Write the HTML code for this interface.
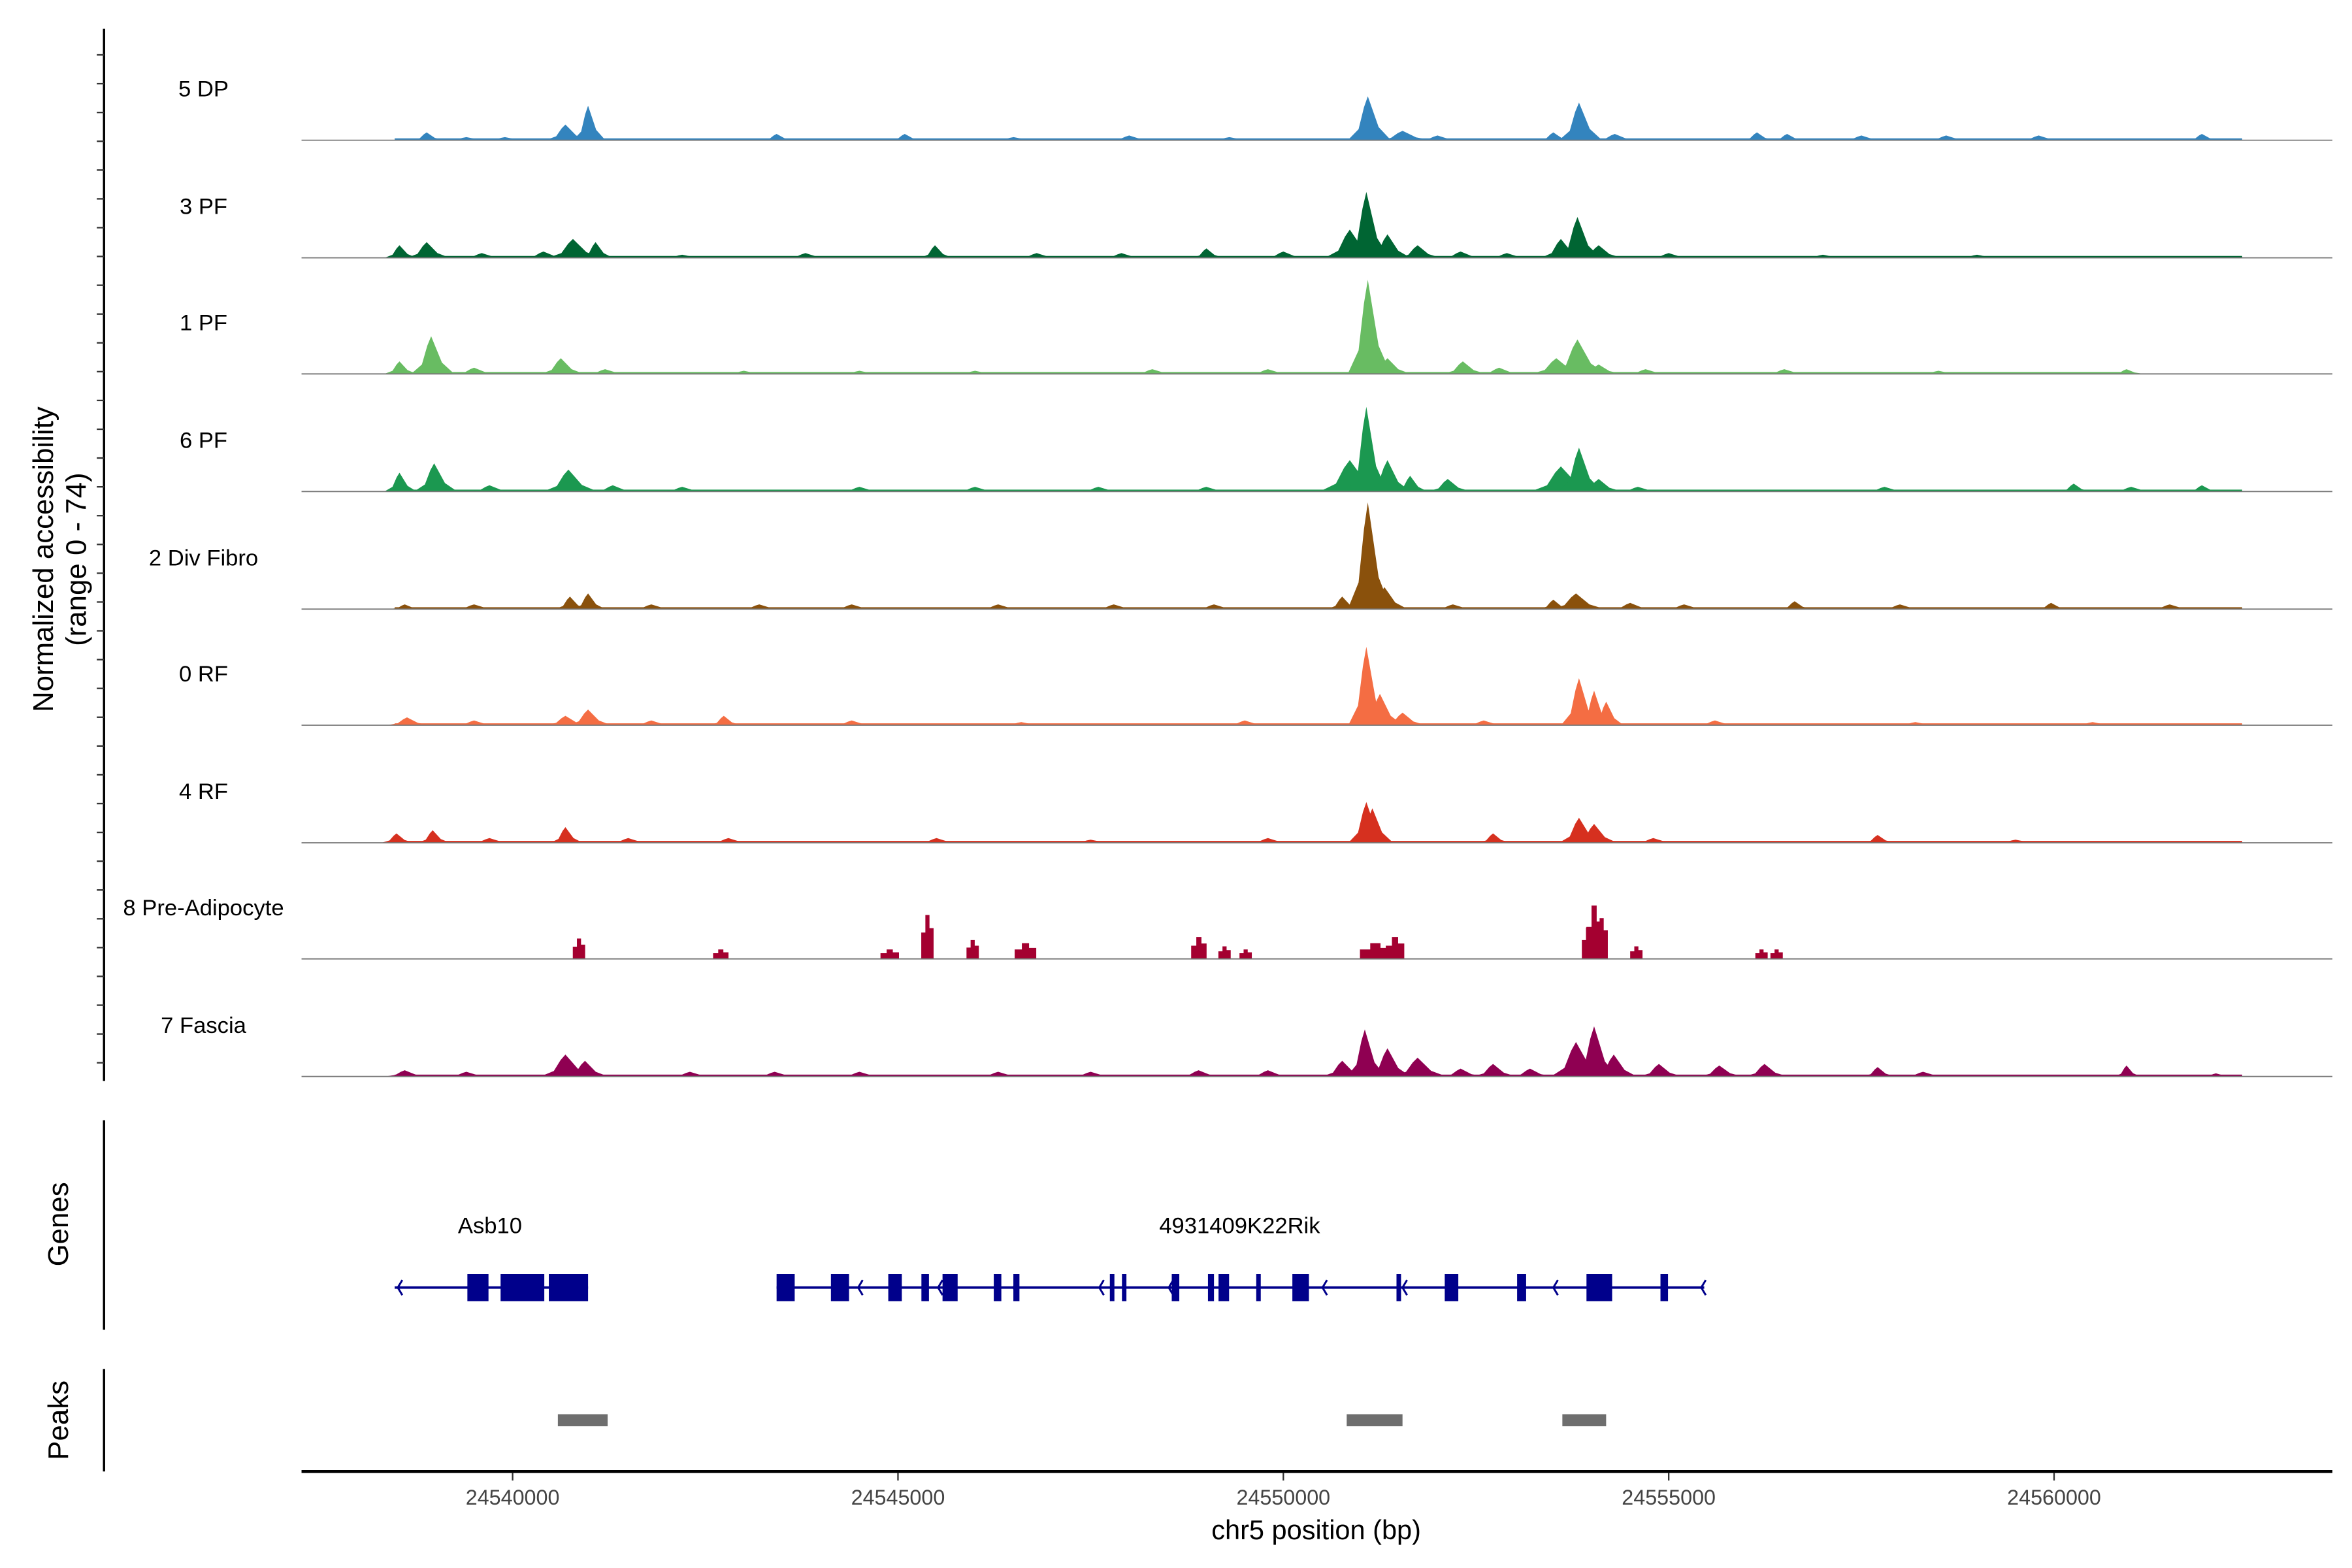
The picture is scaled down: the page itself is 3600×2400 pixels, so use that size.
<!DOCTYPE html>
<html><head><meta charset="utf-8"><style>
html,body{margin:0;padding:0;background:#fff}
svg{display:block}
text{font-family:"Liberation Sans",Arial,sans-serif}
</style></head><body>
<svg id="chart" xmlns="http://www.w3.org/2000/svg" width="3600" height="2400" viewBox="0 0 1560 1040">
<rect x="0" y="0" width="1560" height="1040" fill="#fff"/>
<g id="tracks"></g>
<g id="yaxis"></g>
<text transform="translate(35,371) rotate(-90)" text-anchor="middle" font-size="19">Normalized accessibility</text>
<text transform="translate(57,371) rotate(-90)" text-anchor="middle" font-size="19">(range 0 - 74)</text>
<g id="genes"></g>
<line x1="69" y1="743" x2="69" y2="882" stroke="#000" stroke-width="1.5"/>
<text transform="translate(45,812) rotate(-90)" text-anchor="middle" font-size="19">Genes</text>
<g id="peaks"></g>
<line x1="69" y1="908" x2="69" y2="976" stroke="#000" stroke-width="1.5"/>
<text transform="translate(45,942) rotate(-90)" text-anchor="middle" font-size="19">Peaks</text>
<g id="xaxis"></g>
<text x="873" y="1021" text-anchor="middle" font-size="18">chr5 position (bp)</text>
</svg>
<script>
const trackNames = ["5 DP","3 PF","1 PF","6 PF","2 Div Fibro","0 RF","4 RF","8 Pre-Adipocyte","7 Fascia"];
const trackColors = ["#3384be","#006533","#68bc62","#1b9850","#8a510c","#f46d43","#d6301f","#a40030","#8f0052"];
const bgRanges = [[24538470,24562440],[24538470,24562440],[24538470,24560950],[24538470,24562440],[24538470,24562440],[24538470,24562440],[24538470,24562440],[0,0],[24538470,24562440]];
// peaks: [position bp, height (0-74), half-width bp]
const peaks5DP = [[24538885,5,150],[24539400,2,200],[24539900,2,200],[24540685,10,200],[24540979,22,150],[24543425,4,150],[24545088,4,150],[24546500,2,200],[24548000,3,200],[24549300,2,200],[24551096,28,200],[24551547,6,250],[24552000,3,200],[24553503,5,150],[24553836,24,200],[24554300,4,200],[24556145,5,150],[24556536,4,150],[24557500,3,200],[24558600,3,200],[24559800,3,200],[24561918,4,150]];
const peaks3PF = [[24538532,8,150],[24538885,10,200],[24539600,3,200],[24540400,4,200],[24540783,12,250],[24541076,10,150],[24542200,2,200],[24543800,3,200],[24545480,8,150],[24546800,3,200],[24547900,3,200],[24549002,6,150],[24550000,4,200],[24550862,18,250],[24551077,42,200],[24551351,15,200],[24551742,8,200],[24552300,4,200],[24552900,3,200],[24553601,12,200],[24553816,26,200],[24554091,8,200],[24555000,3,200],[24557000,2,200],[24559000,2,200]];
const peaks1PF = [[24538532,8,150],[24538943,24,200],[24539500,4,200],[24540626,10,200],[24541200,3,200],[24543000,2,200],[24544500,2,200],[24546000,2,200],[24548300,3,200],[24549800,3,200],[24551096,60,200],[24551351,10,200],[24552329,8,200],[24552800,4,200],[24553542,10,250],[24553816,22,250],[24554091,6,200],[24554700,3,200],[24556500,3,200],[24558500,2,200],[24560940,3,150]];
const peaks6PF = [[24538532,12,150],[24538982,18,200],[24539700,4,200],[24540724,14,250],[24541300,4,200],[24542200,3,200],[24544500,3,200],[24546000,3,200],[24547600,3,200],[24549000,3,200],[24550862,20,300],[24551077,54,180],[24551351,20,200],[24551645,10,150],[24552133,8,200],[24553601,16,300],[24553836,28,200],[24554091,8,200],[24554600,3,200],[24557800,3,200],[24560255,5,150],[24561000,3,200],[24561918,4,150]];
const peaksDiv = [[24538600,3,150],[24539500,3,200],[24540744,8,150],[24540979,10,150],[24541800,3,200],[24543200,3,200],[24544400,3,200],[24546300,3,200],[24547800,3,200],[24549100,3,200],[24550764,8,150],[24551096,68,200],[24551312,14,200],[24552200,3,200],[24553797,10,250],[24553503,6,150],[24554500,4,200],[24555200,3,200],[24556634,5,150],[24558000,3,200],[24559961,4,150],[24561500,3,200]];
const peaks0RF = [[24538630,5,200],[24539500,3,200],[24540685,6,200],[24540979,10,200],[24541800,3,200],[24542740,6,150],[24544400,3,200],[24546600,2,200],[24549500,3,200],[24551077,50,180],[24551253,20,200],[24551547,8,200],[24552600,3,200],[24553836,30,180],[24554032,22,150],[24554189,15,150],[24555600,3,200],[24558200,2,200],[24560500,2,200]];
const peaks4RF = [[24538493,6,150],[24538963,8,150],[24539700,3,200],[24540685,10,150],[24541500,3,200],[24542800,3,200],[24545500,3,200],[24547500,2,200],[24549800,3,200],[24551077,26,180],[24551155,22,180],[24552721,6,150],[24553836,16,200],[24554032,12,200],[24554800,3,200],[24557711,5,150],[24559500,2,200]];
const peaksPre = [[24540861,13,80],[24542701,6,100],[24544893,6,120],[24545382,28,80],[24545969,12,80],[24546654,10,140],[24548904,14,100],[24549237,8,80],[24549511,6,80],[24551194,10,200],[24551449,14,120],[24553953,20,80],[24554032,34,100],[24554130,26,80],[24554580,8,80],[24556204,6,80],[24556400,6,80]];
const peaksFascia = [[24538600,4,200],[24539400,3,200],[24540685,14,250],[24540939,10,200],[24542300,3,200],[24543400,3,200],[24544500,3,200],[24546300,3,200],[24547500,3,200],[24548900,4,200],[24549800,4,200],[24550764,10,200],[24551057,30,180],[24551351,18,200],[24551742,12,250],[24552300,5,200],[24552721,8,200],[24553200,5,200],[24553797,22,250],[24554032,32,200],[24554287,14,200],[24554873,8,200],[24555656,7,200],[24556243,8,200],[24557711,6,150],[24558300,3,200],[24560940,7,120],[24562100,2,150]];
const trackPeaks = [peaks5DP,peaks3PF,peaks1PF,peaks6PF,peaksDiv,peaks0RF,peaks4RF,peaksPre,peaksFascia];
const geneNames = ["Asb10","4931409K22Rik"];
const geneSpans = [[24538470,24540979],[24543425,24555461]];
const geneLabelPos = [24539706,24549433];
const exons = [[24539413,24539687],[24539844,24540411],[24540470,24540979],[24543425,24543660],[24544130,24544365],[24544874,24545050],[24545304,24545402],[24545578,24545774],[24546243,24546341],[24546497,24546576],[24547749,24547808],[24547906,24547964],[24548552,24548650],[24549022,24549100],[24549159,24549296],[24549648,24549707],[24550117,24550332],[24551468,24551527],[24552094,24552270],[24553033,24553150],[24553933,24554266],[24554893,24554991]];
const arrowPos = [24538510,24539570,24544483,24545520,24546497,24547612,24548513,24550508,24551546,24553503,24555422];
const peakRegions = [[24540587,24541233],[24550822,24551546],[24553620,24554188]];
const xTicks = [24540000,24545000,24550000,24555000,24560000];

const NS="http://www.w3.org/2000/svg";
function el(tag, attrs, parent){const e=document.createElementNS(NS,tag);for(const k in attrs)e.setAttribute(k,attrs[k]);parent.appendChild(e);return e;}
const bp0=24540000, px0=340, pxPerBp=0.05112;
function xs(bp){return px0+(bp-bp0)*pxPerBp;}
const unitPx=77/74;
function ys(v,base){return base-v*unitPx;}
const baselines=[93,171,248,326,404,481,559,636,714];

const tg=document.getElementById('tracks');
trackNames.forEach((name,i)=>{
  const g=el('g',{},tg);
  
  
  const base=baselines[i], col=trackColors[i];
  const lab=el('text',{x:135,y:base-29,'text-anchor':'middle','font-size':15},g);
  lab.textContent=name;
  
  
  const r=bgRanges[i];
  if(r[1]>r[0]){
    const bg=el('rect',{x:xs(r[0]),y:ys(1.2,base),width:xs(r[1])-xs(r[0]),height:1.2*unitPx,fill:col},g);
    
    
  }
  const blocky = (i===7);
  trackPeaks[i].forEach(p=>{
    const c=p[0],h=p[1],w=p[2];
    let d;
    if(blocky){
      d=`M${xs(c-w)},${base} L${xs(c-w)},${ys(h*0.6,base)} L${xs(c-w/3)},${ys(h*0.6,base)} L${xs(c-w/3)},${ys(h,base)} L${xs(c+w/3)},${ys(h,base)} L${xs(c+w/3)},${ys(h*0.7,base)} L${xs(c+w)},${ys(h*0.7,base)} L${xs(c+w)},${base} Z`;
    } else {
      d=`M${xs(c-w*1.3)},${base} L${xs(c-w*0.6)},${ys(h*0.25,base)} L${xs(c-w*0.25)},${ys(h*0.75,base)} L${xs(c)},${ys(h,base)} L${xs(c+w*0.3)},${ys(h*0.7,base)} L${xs(c+w*0.7)},${ys(h*0.3,base)} L${xs(c+w*1.5)},${base} Z`;
    }
    const pk=el('path',{d:d,fill:col},g);
    
    
  });
  const bl=el('line',{x1:200,y1:base,x2:1547,y2:base,stroke:'#777','stroke-width':0.8},g);
  
  
});

const ya=document.getElementById('yaxis');
const yl=el('line',{x1:69,y1:19,x2:69,y2:717,stroke:'#000','stroke-width':1.5},ya);


for(let k=0;k<36;k++){
  const y=36.4+k*19.1;
  const t=el('line',{x1:64.2,y1:y,x2:69,y2:y,stroke:'#333','stroke-width':1},ya);
  
  
}

const gg=document.getElementById('genes');
const gy=854;
geneSpans.forEach((s,i)=>{
  const ln=el('line',{x1:xs(s[0]),y1:gy,x2:xs(s[1]),y2:gy,stroke:'#00008b','stroke-width':1.6},gg);
  
  
  const t=el('text',{x:xs(geneLabelPos[i]),y:818,'text-anchor':'middle','font-size':15},gg);
  t.textContent=geneNames[i];
  
  
});
exons.forEach(e=>{
  const r=el('rect',{x:xs(e[0]),y:845,width:Math.max(2,xs(e[1])-xs(e[0])),height:18,fill:'#00008b'},gg);
  
  
});
arrowPos.forEach(a=>{
  const x=xs(a);
  const p=el('polyline',{points:`${x+3},${gy-5} ${x},${gy} ${x+3},${gy+5}`,fill:'none',stroke:'#00008b','stroke-width':1.3},gg);
  
  
});

const pg=document.getElementById('peaks');
peakRegions.forEach(p=>{
  const r=el('rect',{x:xs(p[0]),y:938,width:xs(p[1])-xs(p[0]),height:8,fill:'#6e6e6e'},pg);
  
  
});

const xa=document.getElementById('xaxis');
const xl=el('line',{x1:200,y1:976,x2:1547,y2:976,stroke:'#000','stroke-width':2},xa);


xTicks.forEach(v=>{
  const x=xs(v);
  const t=el('line',{x1:x,y1:977,x2:x,y2:982,stroke:'#333','stroke-width':1},xa);
  
  
  const l=el('text',{x:x,y:998,'text-anchor':'middle','font-size':14,fill:'#444'},xa);
  l.textContent=String(v);
  
  
});
</script>
</body></html>
